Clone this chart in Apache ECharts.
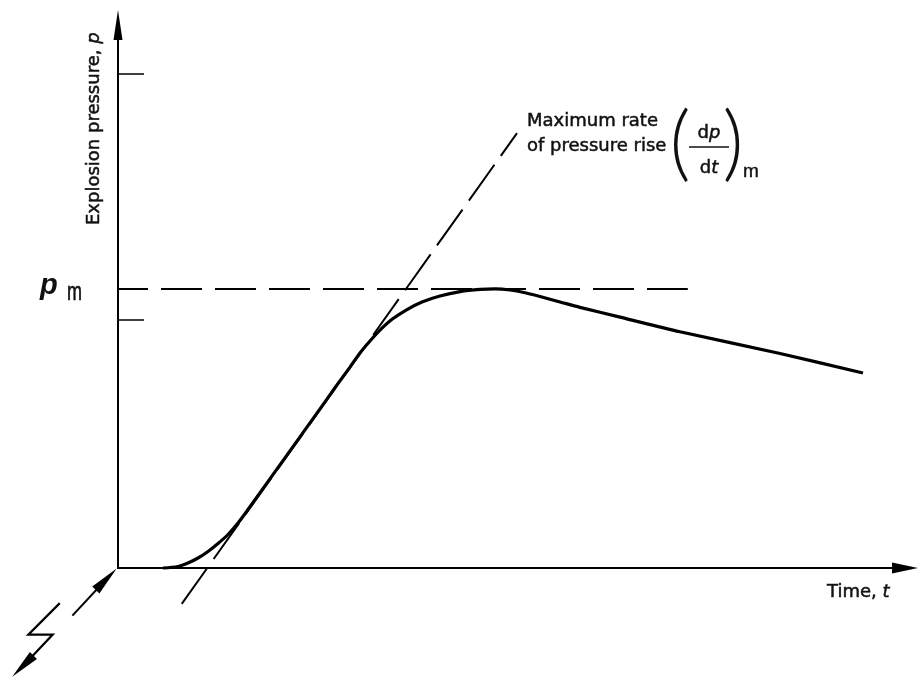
<!DOCTYPE html>
<html>
<head>
<meta charset="utf-8">
<title>Explosion pressure against time</title>
<script src="https://cdn.jsdelivr.net/npm/echarts@6/dist/echarts.min.js"></script>
<style>
	html, body { margin: 0; padding: 0; background: #fff; }
	#chart { width: 918px; height: 677px; }
</style>
</head>
<body>
<div id="chart"></div>
<script>
	// both axes in arbitrary units 0..100 (schematic, no scale printed)
	var curveTime = [5.72, 7.62, 8.89, 10.17, 11.44, 12.71, 13.98, 15.25, 16.52, 20.58, 25.67, 27.57, 29.48, 30.75, 32.02, 33.29, 34.82, 36.72, 38.63, 40.91, 43.46, 46.0, 47.9, 49.81, 51.72, 53.62, 56.16, 58.7, 63.79, 71.41, 84.12, 94.66];
	var curvePressure = [0, 0.28, 0.92, 1.84, 3.04, 4.51, 6.17, 8.29, 10.77, 19.0, 29.3, 33.2, 37.0, 39.6, 41.8, 43.8, 45.8, 47.6, 49.0, 50.1, 50.9, 51.3, 51.4, 51.2, 50.7, 50.0, 49.0, 48.0, 46.2, 43.5, 39.5, 35.9];

	// tangent at the steepest part of the rise
	var tangentTime = [8.1, 50.7];
	var tangentPressure = [-6.6, 80.1];

	// p_m level
	var pmPressure = 51.4;
	var pmLineEnd = 72.4;
	var pTickValues = [45.7, 91];

	// ignition symbol below the origin
	var sparkTime = [-5.8, -1.5];
	var sparkPressure = [-8.7, -2.0];
	var boltTime = [-7.4, -11.4, -8.3, -12.1];
	var boltPressure = [-6.4, -12.2, -12.2, -18.0];
	var headTime = [-1.5, -12.1];
	var headPressure = [-2.0, -18.0];
	var headAngle = [-44, 135];

	function zip(xs, ys) {
		return xs.map(function (x, i) { return [x, ys[i]]; });
	}

	var font = 'DejaVu Sans';
	var ink = '#111';

	function tok(italic) {
		return { fontFamily: font, fontSize: 18, fontStyle: italic ? 'italic' : 'normal', fill: ink, stroke: ink, lineWidth: 0.5 };
	}

	var myChart = echarts.init(document.getElementById('chart'), null, { renderer: 'canvas' });

	var hiddenAxis = { show: false, type: 'value', gridIndex: 1 };

	var option = {
		backgroundColor: '#fff',
		animation: false,
		grid: [
			{ left: 118, right: 13, top: 25, bottom: 109 },
			// same scale, stretched to the page corner for the ignition sign
			{ left: 0, right: 13, top: 25, bottom: 0 }
		],
		xAxis: [{
			type: 'value',
			min: 0,
			max: 100,
			axisLine: {
				show: true,
				symbol: ['none', 'triangle'],
				symbolSize: [11, 26],
				lineStyle: { color: '#000', width: 2 }
			},
			axisTick: { show: false },
			axisLabel: { show: false },
			splitLine: { show: false }
		}, Object.assign({ min: -15, max: 100 }, hiddenAxis)],
		yAxis: [{
			type: 'value',
			min: 0,
			max: 100,
			axisLine: {
				show: true,
				symbol: ['none', 'triangle'],
				symbolSize: [9, 30],
				lineStyle: { color: '#000', width: 2 }
			},
			axisTick: {
				show: true,
				inside: true,
				length: 26,
				customValues: pTickValues,
				lineStyle: { color: '#000', width: 1.5 }
			},
			axisLabel: { show: false },
			splitLine: { show: false }
		}, Object.assign({ min: -20, max: 100 }, hiddenAxis)],
		series: [
			{
				name: 'pressure',
				type: 'line',
				data: zip(curveTime, curvePressure),
				smooth: 0.3,
				showSymbol: false,
				clip: false,
				silent: true,
				lineStyle: { color: '#000', width: 3.2 }
			},
			{
				name: 'tangent',
				type: 'line',
				data: zip(tangentTime, tangentPressure),
				showSymbol: false,
				clip: false,
				silent: true,
				lineStyle: { color: '#000', width: 2, type: [44, 11] }
			},
			{
				name: 'pm',
				type: 'line',
				data: [[0, pmPressure], [pmLineEnd, pmPressure]],
				showSymbol: false,
				clip: false,
				silent: true,
				lineStyle: { color: '#000', width: 2, type: [41, 13], dashOffset: 11 }
			},
			{
				name: 'spark',
				type: 'line',
				xAxisIndex: 1,
				yAxisIndex: 1,
				data: zip(sparkTime, sparkPressure),
				showSymbol: false,
				silent: true,
				lineStyle: { color: '#000', width: 2 }
			},
			{
				name: 'bolt',
				type: 'line',
				xAxisIndex: 1,
				yAxisIndex: 1,
				data: zip(boltTime, boltPressure),
				showSymbol: false,
				silent: true,
				lineStyle: { color: '#000', width: 2.2, join: 'miter' }
			},
			{
				name: 'heads',
				type: 'scatter',
				xAxisIndex: 1,
				yAxisIndex: 1,
				silent: true,
				symbol: 'triangle',
				symbolSize: [10, 30],
				itemStyle: { color: '#000', opacity: 1 },
				data: headTime.map(function (t, i) {
					return { value: [t, headPressure[i]], symbolRotate: headAngle[i] };
				})
			}
		],
		graphic: [
			{
				type: 'text', x: 94, y: 225, rotation: Math.PI / 2,
				style: {
					text: '{a|Explosion pressure, }{b|p}',
					align: 'left', verticalAlign: 'middle', fill: ink,
					rich: { a: tok(false), b: tok(true) }
				}
			},
			{
				type: 'text', x: 827, y: 592,
				style: {
					text: '{a|Time, }{b|t}',
					align: 'left', verticalAlign: 'middle', fill: ink,
					rich: { a: tok(false), b: tok(true) }
				}
			},
			{
				type: 'text', x: 40, y: 286,
				style: {
					text: 'p', fontFamily: 'Liberation Sans', fontSize: 29, fontStyle: 'italic', fontWeight: 'bold',
					align: 'left', verticalAlign: 'middle', fill: ink
				}
			},
			{
				type: 'text', x: 67, y: 293, scaleX: 0.72,
				style: {
					text: 'm', fontFamily: 'Liberation Sans', fontSize: 25,
					align: 'left', verticalAlign: 'middle', fill: ink, stroke: ink, lineWidth: 0.6
				}
			},
			{
				type: 'text', x: 527, y: 121,
				style: Object.assign({ text: 'Maximum rate', align: 'left', verticalAlign: 'middle' }, tok(false))
			},
			{
				type: 'text', x: 527, y: 146,
				style: Object.assign({ text: 'of pressure rise', align: 'left', verticalAlign: 'middle' }, tok(false))
			},
			{
				type: 'text', x: 680, y: 145,
				style: {
					text: '(', fontFamily: 'Lato', fontWeight: 300, fontSize: 82,
					align: 'center', verticalAlign: 'middle', fill: ink
				}
			},
			{
				type: 'text', x: 709, y: 133,
				style: {
					text: '{a|d}{b|p}',
					align: 'center', verticalAlign: 'middle', fill: ink,
					rich: { a: tok(false), b: tok(true) }
				}
			},
			{
				type: 'line',
				shape: { x1: 689, y1: 147, x2: 729, y2: 147 },
				style: { stroke: ink, lineWidth: 1.5 }
			},
			{
				type: 'text', x: 709, y: 168,
				style: {
					text: '{a|d}{b|t}',
					align: 'center', verticalAlign: 'middle', fill: ink,
					rich: { a: tok(false), b: tok(true) }
				}
			},
			{
				type: 'text', x: 733, y: 145,
				style: {
					text: ')', fontFamily: 'Lato', fontWeight: 300, fontSize: 82,
					align: 'center', verticalAlign: 'middle', fill: ink
				}
			},
			{
				type: 'text', x: 743, y: 172,
				style: {
					text: 'm', fontFamily: 'Liberation Sans', fontSize: 19,
					align: 'left', verticalAlign: 'middle', fill: ink, stroke: ink, lineWidth: 0.4
				}
			}
		]
	};

	myChart.setOption(option);
</script>
</body>
</html>
